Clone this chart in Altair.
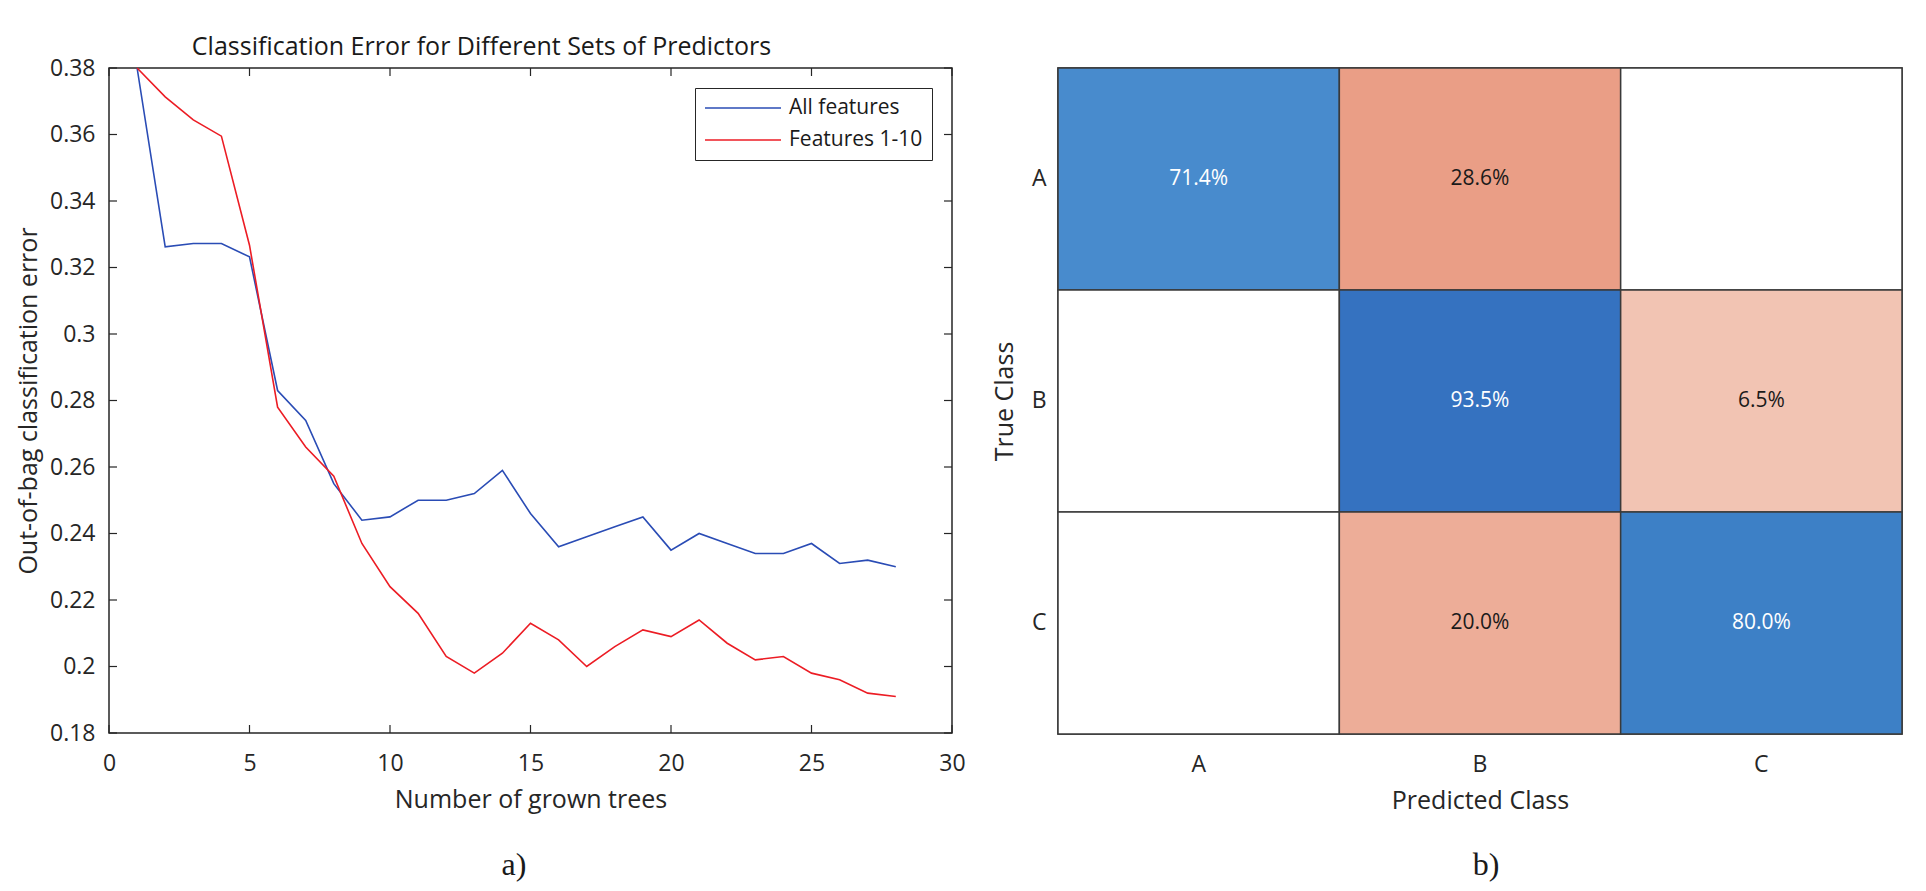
import altair as alt
import pandas as pd

# ---------------- data: panel a) ----------------
trees = list(range(1, 29))
err_all = [0.380, 0.3262, 0.3272, 0.3272, 0.3232, 0.283, 0.274, 0.255, 0.244, 0.245,
           0.250, 0.250, 0.252, 0.259, 0.246, 0.236, 0.239, 0.242, 0.245, 0.235,
           0.240, 0.237, 0.234, 0.234, 0.237, 0.231, 0.232, 0.230]
err_1_10 = [0.380, 0.3713, 0.3644, 0.3595, 0.3267, 0.278, 0.266, 0.2572, 0.237, 0.224,
            0.216, 0.203, 0.198, 0.204, 0.213, 0.208, 0.200, 0.206, 0.211, 0.209,
            0.214, 0.207, 0.202, 0.203, 0.198, 0.196, 0.192, 0.191]
series_names = ["All features", "Features 1-10"]
x_ticks = [0, 5, 10, 15, 20, 25, 30]
y_ticks = [0.18, 0.20, 0.22, 0.24, 0.26, 0.28, 0.30, 0.32, 0.34, 0.36, 0.38]

# ---------------- data: panel b) ----------------
classes = ["A", "B", "C"]
row_pct = [
    [71.4, 28.6, 0.0],
    [0.0, 93.5, 6.5],
    [0.0, 20.0, 80.0],
]
captions = ["a)", "b)"]

FONT = "Open Sans"
INK = "#262626"
TXT = "#1a1a1a"

lines_df = pd.DataFrame({
    "trees": trees * 2,
    "err": err_all + err_1_10,
    "series": [series_names[0]] * len(trees) + [series_names[1]] * len(trees),
})
xt_df = pd.DataFrame({"t": x_ticks})
yt_df = pd.DataFrame({"t": y_ticks})

W1, H1 = 843, 665
xs = alt.Scale(domain=[0, 30], nice=False, zero=False)
ys = alt.Scale(domain=[0.18, 0.38], nice=False, zero=False)

lines = alt.Chart(lines_df).mark_line(strokeWidth=1.6).encode(
    x=alt.X("trees:Q", scale=xs,
            axis=alt.Axis(title="Number of grown trees", values=x_ticks, ticks=False,
                          domain=False, grid=False, labelPadding=19, titlePadding=12,
                          labelFontSize=23, titleFontSize=25, labelFlush=False)),
    y=alt.Y("err:Q", scale=ys,
            axis=alt.Axis(title="Out-of-bag classification error", values=y_ticks,
                          ticks=False, domain=False, grid=False, labelPadding=14,
                          titlePadding=8, labelFontSize=23, titleFontSize=25,
                          labelFlush=False,
                          labelExpr="format(datum.value, '.2~f')")),
    color=alt.Color("series:N",
                    scale=alt.Scale(domain=series_names, range=["#2a4cb5", "#ec1c24"]),
                    legend=alt.Legend(title=None, orient="top-right", offset=20,
                                      symbolType="stroke", symbolSize=5776,
                                      symbolStrokeWidth=1.6, clipHeight=22,
                                      rowPadding=10, padding=9, labelOffset=7,
                                      labelFontSize=21, labelFont=FONT, labelColor=TXT,
                                      strokeColor=INK, fillColor="white")),
)

tick_len = 8
xt_bottom = alt.Chart(xt_df).mark_rule(color=INK, strokeWidth=1.2).encode(
    x=alt.X("t:Q", scale=xs), y=alt.value(H1), y2=alt.value(H1 - tick_len))
xt_top = alt.Chart(xt_df).mark_rule(color=INK, strokeWidth=1.2).encode(
    x=alt.X("t:Q", scale=xs), y=alt.value(0), y2=alt.value(tick_len))
yt_left = alt.Chart(yt_df).mark_rule(color=INK, strokeWidth=1.2).encode(
    y=alt.Y("t:Q", scale=ys), x=alt.value(0), x2=alt.value(tick_len))
yt_right = alt.Chart(yt_df).mark_rule(color=INK, strokeWidth=1.2).encode(
    y=alt.Y("t:Q", scale=ys), x=alt.value(W1), x2=alt.value(W1 - tick_len))

cap_a = alt.Chart(pd.DataFrame({"cap": [captions[0]]})).mark_text(
    font="Liberation Serif", fontSize=32, color=TXT, baseline="middle", align="center"
).encode(text="cap:N", x=alt.value(405), y=alt.value(797))

left = alt.layer(xt_bottom, xt_top, yt_left, yt_right, lines, cap_a).properties(
    width=W1, height=H1,
    title=alt.TitleParams("Classification Error for Different Sets of Predictors",
                          fontSize=25, fontWeight="normal", font=FONT, color=TXT,
                          offset=-3, dx=-49, frame="group"),
)

# ---------------- heatmap ----------------
cells = []
for i, t in enumerate(classes):
    for j, p in enumerate(classes):
        v = row_pct[i][j]
        cells.append({"true": t, "pred": p, "pct": v,
                      "signed": v if i == j else -v})
hm_df = pd.DataFrame(cells)

W2, H2 = 844, 666
cscale = alt.Scale(
    domain=[-28.6, -20.0, -6.5, 71.4, 80.0, 93.5],
    range=["#ea9e86", "#edad98", "#f2c4b3", "#488bcd", "#3d80c6", "#3572c0"],
    type="linear", interpolate="rgb",
)
base = alt.Chart(hm_df).encode(
    x=alt.X("pred:N", sort=classes,
            axis=alt.Axis(title="Predicted Class", labelAngle=0, ticks=False, domain=False,
                          labelPadding=19, titlePadding=12, labelFontSize=23,
                          titleFontSize=25)),
    y=alt.Y("true:N", sort=classes,
            axis=alt.Axis(title="True Class", ticks=False, domain=False, labelPadding=12,
                          titlePadding=14, labelFontSize=23, titleFontSize=25,
                          labelAngle=0)),
)
rects = base.mark_rect(stroke="#3a3a3a", strokeWidth=1.5).encode(
    color=alt.condition("datum.pct == 0", alt.value("white"),
                        alt.Color("signed:Q", scale=cscale, legend=None)))
texts = base.transform_filter("datum.pct > 0").transform_calculate(
    label="format(datum.pct, '.1f') + '%'",
).mark_text(fontSize=21, font=FONT).encode(
    text="label:N",
    color=alt.condition("datum.signed > 0", alt.value("white"), alt.value(TXT)),
)
cap_b = alt.Chart(pd.DataFrame({"cap": [captions[1]]})).mark_text(
    font="Liberation Serif", fontSize=32, color=TXT, baseline="middle", align="center"
).encode(text="cap:N", x=alt.value(428), y=alt.value(797))

right = alt.layer(rects, texts, cap_b).properties(width=W2, height=H2)

chart = alt.hconcat(left, right, spacing=25).properties(
    padding={"left": 7, "top": 26, "right": 0, "bottom": 0},
    background="white",
).configure_view(stroke=INK, strokeWidth=1.5).configure_axis(
    labelFont=FONT, titleFont=FONT, labelColor="#262626", titleColor="#262626",
    titleFontWeight="normal",
).configure_scale(bandPaddingInner=0, bandPaddingOuter=0)

chart.save("out.html", embed_options={"renderer": "svg", "actions": False})
